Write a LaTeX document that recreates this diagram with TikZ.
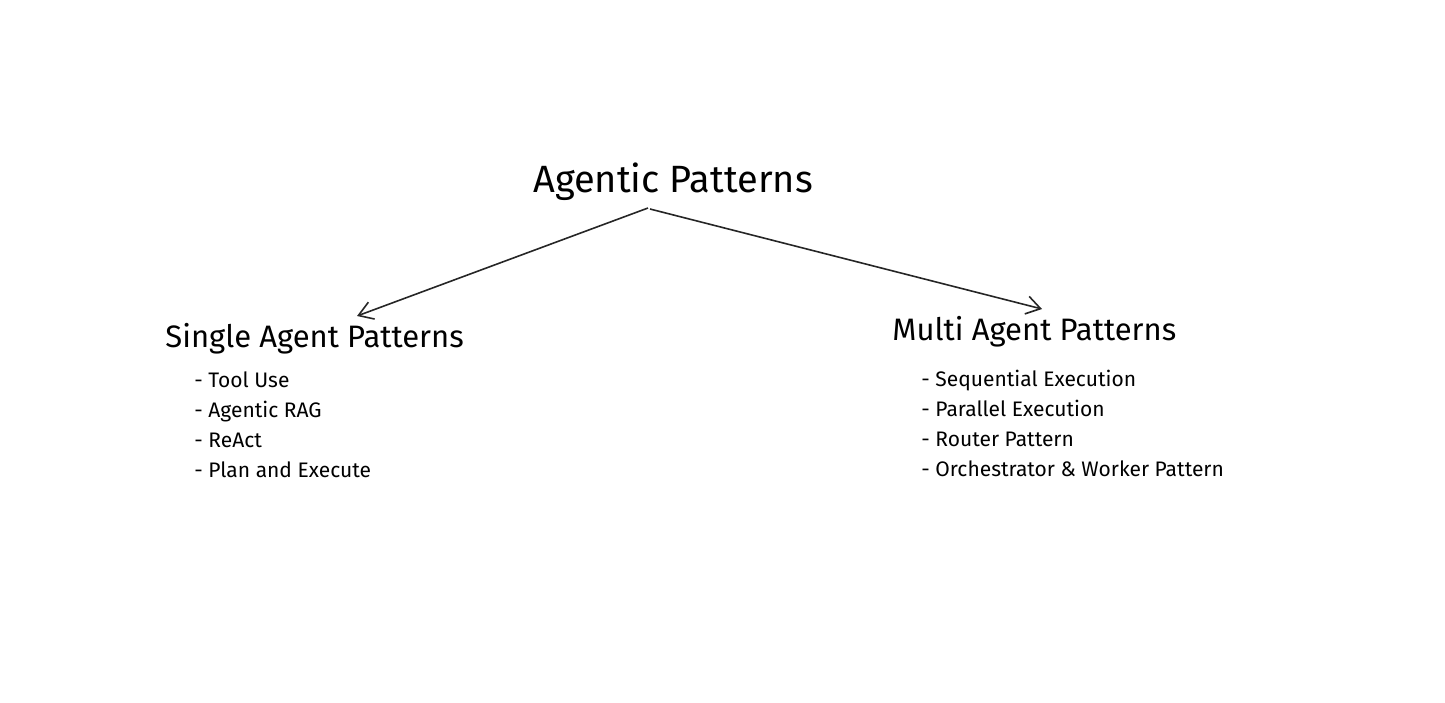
\documentclass[tikz,border=0pt]{standalone}
\usepackage{fontspec}
\setmainfont{Fira Sans}
\usetikzlibrary{arrows.meta}
\begin{document}
\begin{tikzpicture}[x=0.5pt,y=-0.5pt,
  title/.style={font=\fontsize{19}{22}\selectfont,inner sep=0pt},
  head/.style={font=\fontsize{15.5}{18}\selectfont,inner sep=0pt,anchor=west},
  item/.style={font=\fontsize{10.5}{15}\selectfont,inner sep=0pt,anchor=west,align=left},
  arr/.style={-{Straight Barb[length=7pt,width=9pt]},line width=0.8pt,black!85}]
\useasboundingbox (0,0) rectangle (1445,702);
\node[title] (t) at (673,182) {Agentic Patterns};
\node[head] (s) at (165,339) {Single Agent Patterns};
\node[head] (m) at (892,332) {Multi Agent Patterns};
\node[item] (sl) at (194,425) {- Tool Use\\- Agentic RAG\\- ReAct\\- Plan and Execute};
\node[item] (ml) at (921,423) {- Sequential Execution\\- Parallel Execution\\- Router Pattern\\- Orchestrator \& Worker Pattern};
\coordinate (a) at (648,208);
\coordinate (b) at (650,209);
\coordinate (sa) at (357,316);
\coordinate (ma) at (1042,309);
\draw[arr] (a) -- (sa);
\draw[arr] (b) -- (ma);
\end{tikzpicture}
\end{document}
